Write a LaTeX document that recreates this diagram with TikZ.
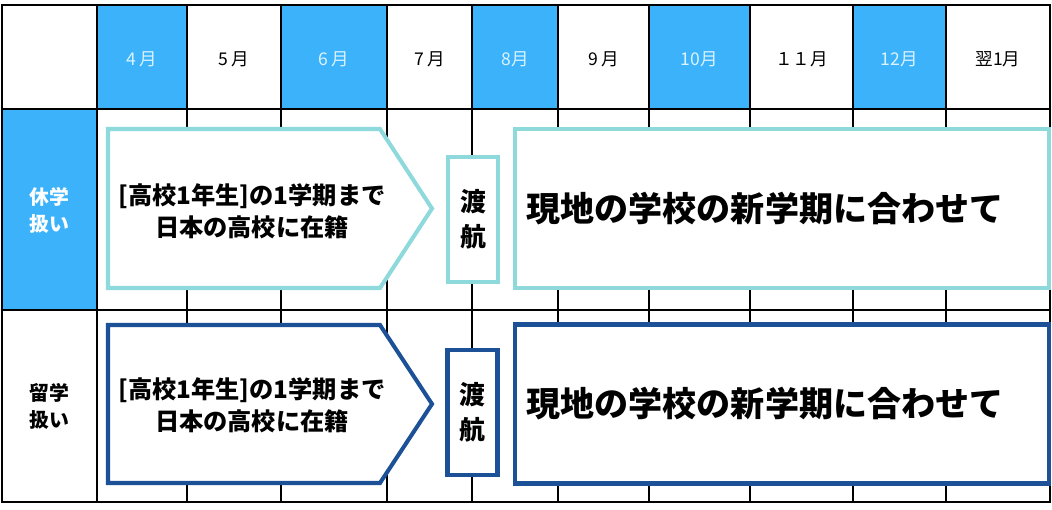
\documentclass[tikz,border=0pt]{standalone}
\usepackage{fontspec}
\setmainfont{Noto Sans CJK JP}
\usepackage{tikz}

\definecolor{skyblue}{HTML}{3BB2F9}
\definecolor{paleteal}{HTML}{8ED9DB}
\definecolor{navyblue}{HTML}{1D5197}
\definecolor{paletext}{HTML}{DCF3FF}

\tikzset{
  grid/.style={line width=1.6pt},
  month/.style={font=\fontsize{10}{11}\selectfont},
  hotmonth/.style={month, text=paletext},
  rowlabel/.style={align=center, font=\bfseries\fontsize{11.3}{15.3}\selectfont},
  stay/.style={line width=2.3pt, draw=#1, fill=white},
  staytext/.style={align=center, font=\bfseries\fontsize{13.8}{18}\selectfont},
  fly/.style={draw=#1, line width=2.3pt, fill=white, minimum width=1cm,
              minimum height=2.5cm, inner sep=0pt, align=center,
              font=\bfseries\fontsize{14.7}{20}\selectfont},
  goal/.style={draw=#1, line width=2.3pt, fill=white, minimum width=10.68cm,
               minimum height=3.18cm},
  goaltext/.style={font=\bfseries\fontsize{19.4}{22}\selectfont}
}

\begin{document}
\begin{tikzpicture}[x=0.02cm, y=-0.02cm]
  \useasboundingbox (0,0) rectangle (1052,510);
  \fill[white] (0,0) rectangle (1052,510);

  % blue cells
  \foreach \l/\r in {97/187, 281/387, 472/558, 649/750, 853/946}
    \fill[skyblue] (\l,5) rectangle (\r,109);
  \fill[skyblue] (2,109) rectangle (97,310);

  % grid
  \foreach \x in {97,187,281,387,472,558,649,750,853,946}
    \draw[grid] (\x,5) -- (\x,502);
  \foreach \y in {109,310}
    \draw[grid] (2,\y) -- (1050,\y);
  \draw[grid] (2,5) rectangle (1050,502);

  % months
  \foreach \l/\r/\m/\s [count=\i] in {97/187/4\,月/hotmonth, 187/281/5\,月/month,
      281/387/6\,月/hotmonth, 387/472/7\,月/month, 472/558/8月/hotmonth,
      558/649/9\,月/month, 649/750/10月/hotmonth, 750/853/１１月/month,
      853/946/12月/hotmonth, 946/1050/翌1月/month}
    \node[\s] (m\i) at ({(\l+\r)/2},59) {\m};

  % row labels
  \node[rowlabel, text=white] (kyu) at (49.5,210) {休学\\扱い};
  \node[rowlabel] (ryu) at (49.5,406) {留学\\扱い};

  % first row
  \draw[stay=paleteal] (108,129) -- (380,129) -- (432,208.5) -- (380,288) -- (108,288) -- cycle;
  \node[staytext] (stay1) at (252,211) {[高校1年生]の1学期まで\\日本の高校に在籍};
  \node[fly=paleteal] (fly1) at (473,219.5) {渡\\航};
  \node[goal=paleteal] (goal1) at (782,208.5) {};
  \node[goaltext] (aim1) at (765,208.5) {現地の学校の新学期に合わせて};

  % second row
  \draw[stay=navyblue] (108,325) -- (380,325) -- (432,404) -- (380,483) -- (108,483) -- cycle;
  \node[staytext] (stay2) at (252,405) {[高校1年生]の1学期まで\\日本の高校に在籍};
  \node[fly=navyblue] (fly2) at (472.5,412.5) {渡\\航};
  \node[goal=navyblue] (goal2) at (782,404) {};
  \node[goaltext] (aim2) at (765,404) {現地の学校の新学期に合わせて};
\end{tikzpicture}
\end{document}
